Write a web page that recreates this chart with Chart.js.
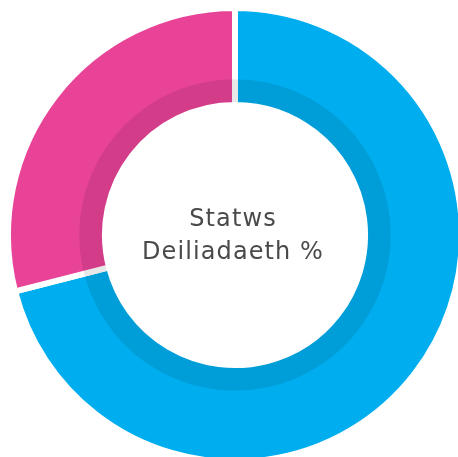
<!DOCTYPE html>
<html>
<head>
<meta charset="utf-8">
<script src="https://cdn.jsdelivr.net/npm/chart.js@4"></script>
<style>
    html, body { margin: 0; padding: 0; background: #ffffff; overflow: hidden; }
    #wrap { position: absolute; left: 5px; top: 5px; width: 460px; height: 460px; }
</style>
</head>
<body>
<div id="wrap"><canvas id="chart"></canvas></div>
<script>
// --- DATA ---
const labels = ['Perchen', 'Rhentu'];
const values = [71, 29];
const colors = ['#00aeef', '#e84397'];
const centerLines = ['Statws', 'Deiliadaeth %'];
const gapWidth = 6;

// --- PLUGINS ---
// darker band along the inside of the ring (also greys the white gap)
const innerShade = {
    id: 'innerShade',
    afterDatasetsDraw(chart) {
        const arc = chart.getDatasetMeta(0).data[0];
        if (!arc) return;
        const { x, y, innerRadius, outerRadius } = arc.getProps(['x', 'y', 'innerRadius', 'outerRadius'], true);
        const start = innerRadius + gapWidth / 2;
        const band = (outerRadius - innerRadius - gapWidth) * 0.25;
        const ctx = chart.ctx;
        ctx.save();
        ctx.beginPath();
        ctx.arc(x, y, start + band, 0, Math.PI * 2);
        ctx.arc(x, y, start, 0, Math.PI * 2, true);
        ctx.fillStyle = 'rgba(0, 0, 0, 0.09)';
        ctx.fill();
        ctx.restore();
    }
};

const centerText = {
    id: 'centerText',
    afterDraw(chart) {
        const arc = chart.getDatasetMeta(0).data[0];
        if (!arc) return;
        const ctx = chart.ctx;
        ctx.save();
        ctx.font = '24px "DejaVu Sans"';
        ctx.letterSpacing = '1.1px';
        ctx.fillStyle = '#4a4a4a';
        ctx.textAlign = 'center';
        ctx.textBaseline = 'alphabetic';
        ctx.fillText(centerLines[0], arc.x - 2, arc.y - 9);
        ctx.fillText(centerLines[1], arc.x - 2, arc.y + 24);
        ctx.restore();
    }
};

// --- CHART ---
new Chart(document.getElementById('chart'), {
    type: 'doughnut',
    data: {
        labels: labels,
        datasets: [{
            data: values,
            backgroundColor: colors,
            borderColor: '#ffffff',
            borderWidth: gapWidth
        }]
    },
    options: {
        responsive: true,
        maintainAspectRatio: false,
        animation: false,
        cutout: '57.3%',
        plugins: {
            legend: { display: false },
            tooltip: { enabled: false }
        }
    },
    plugins: [innerShade, centerText]
});
</script>
</body>
</html>
